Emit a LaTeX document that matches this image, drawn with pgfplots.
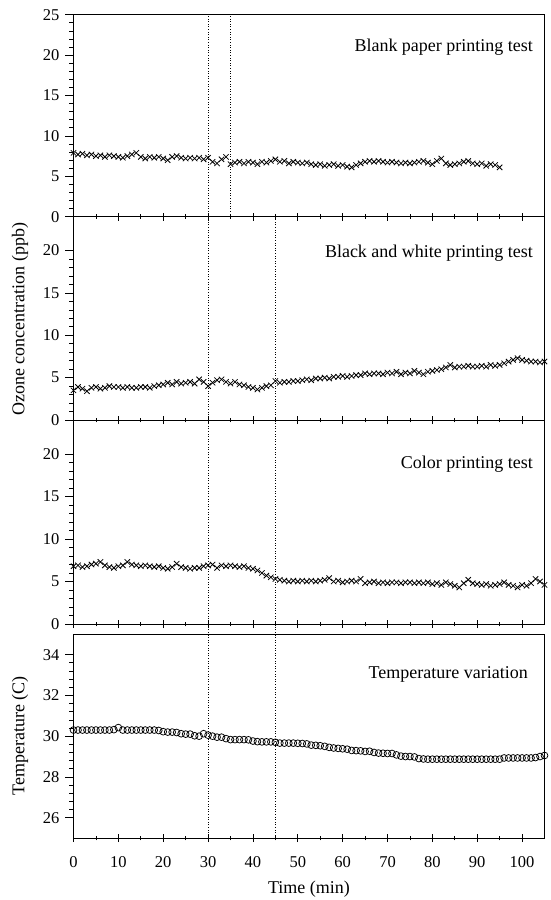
\documentclass[border=0pt]{standalone}
\usepackage{fontspec}
\setmainfont{Liberation Serif}
\usepackage{pgfplots}
\pgfplotsset{compat=1.18}
\pgfplotsset{
 panel/.style={
  scale only axis, width=471pt,
  xmin=0, xmax=105,
  xtick={0,10,...,100}, minor x tick num=1,
  xtick pos=bottom, ytick pos=left,
  xtick align=center, ytick align=outside,
  major tick length=8pt, minor tick length=4.5pt,
  every tick/.style={black, line width=0.7pt},
  axis line style={line width=0.8pt},
  /pgf/number format/assume math mode=true,
  ticklabel style={font=\fontsize{16.5}{18}\selectfont},
  yticklabel style={xshift=-2.5pt},
  xticklabel style={yshift=-11pt},
  xlabel style={yshift=-6pt},
  label style={font=\fontsize{18}{20}\selectfont},
  anchor=south west,
 },
 ozone/.style={panel, ymin=0, ytick={0,5,...,20}, minor y tick num=4, xticklabels={}},
 xmk/.style={only marks, mark=x, mark size=3.8pt, black, mark options={line width=0.8pt}},
}
\tikzset{
 vl/.style={black, dotted, line width=0.6pt},
 lbl/.style={anchor=base east, font=\fontsize{18}{20}\selectfont},
}
\begin{document}
\begin{tikzpicture}
\path[use as bounding box] (0,0) rectangle (550pt,-900pt);
% Panel 1
\begin{axis}[ozone, at={(73.5pt,-216.7pt)}, height=202pt, ymax=25, ytick={0,5,...,25}]
\addplot[xmk] table {
x y
0 7.9
1 7.7
2 7.8
3 7.6
4 7.7
5 7.5
6 7.6
7 7.4
8 7.6
9 7.5
10 7.4
11 7.3
12 7.5
13 7.7
14 7.9
15 7.4
16 7.2
17 7.4
18 7.3
19 7.4
20 7.2
21 7.0
22 7.4
23 7.5
24 7.3
25 7.2
26 7.3
27 7.2
28 7.3
29 7.1
30 7.3
31 6.8
32 6.6
33 7.1
34 7.4
35 6.5
36 6.7
37 6.8
38 6.6
39 6.8
40 6.7
41 6.5
42 6.8
43 6.7
44 6.9
45 7.1
46 6.8
47 6.9
48 6.6
49 6.8
50 6.7
51 6.6
52 6.7
53 6.5
54 6.4
55 6.5
56 6.3
57 6.4
58 6.5
59 6.3
60 6.4
61 6.2
62 6.1
63 6.4
64 6.6
65 6.8
66 6.9
67 6.8
68 6.9
69 6.8
70 6.7
71 6.8
72 6.7
73 6.6
74 6.7
75 6.6
76 6.7
77 6.8
78 6.9
79 6.7
80 6.5
81 6.9
82 7.2
83 6.6
84 6.4
85 6.5
86 6.6
87 6.8
88 6.9
89 6.6
90 6.5
91 6.6
92 6.3
93 6.5
94 6.4
95 6.1
};
\draw[vl] (axis cs:30,0) -- (axis cs:30,25);
\draw[vl] (axis cs:35,0) -- (axis cs:35,25);
\node[lbl] at (axis description cs:0.983,0.817) {Blank paper printing test};
\end{axis}
% Panel 2
\begin{axis}[ozone, at={(73.5pt,-420pt)}, height=203.3pt, ymax=24]
\addplot[xmk] table {
x y
0 3.5
1 3.9
2 3.7
3 3.4
4 3.8
5 3.9
6 3.7
7 3.8
8 4.0
9 3.9
10 3.9
11 3.8
12 3.9
13 3.8
14 3.8
15 3.9
16 3.9
17 3.8
18 4.0
19 4.1
20 4.2
21 4.4
22 4.2
23 4.5
24 4.3
25 4.4
26 4.5
27 4.3
28 4.8
29 4.5
30 4.0
31 4.4
32 4.7
33 4.8
34 4.5
35 4.3
36 4.5
37 4.2
38 4.1
39 3.9
40 3.8
41 3.6
42 3.8
43 4.0
44 4.1
45 4.6
46 4.4
47 4.5
48 4.5
49 4.6
50 4.6
51 4.7
52 4.8
53 4.7
54 4.9
55 4.9
56 5.0
57 4.9
58 5.1
59 5.1
60 5.2
61 5.1
62 5.2
63 5.3
64 5.3
65 5.5
66 5.4
67 5.5
68 5.5
69 5.4
70 5.6
71 5.5
72 5.7
73 5.4
74 5.6
75 5.5
76 5.8
77 5.6
78 5.4
79 5.7
80 5.8
81 5.9
82 6.0
83 6.2
84 6.5
85 6.2
86 6.3
87 6.3
88 6.4
89 6.3
90 6.3
91 6.4
92 6.3
93 6.5
94 6.4
95 6.5
96 6.7
97 6.9
98 7.1
99 7.3
100 7.1
101 7.0
102 6.9
103 6.9
104 6.8
105 6.9
};
\draw[vl] (axis cs:30,0) -- (axis cs:30,24);
\draw[vl] (axis cs:45,0) -- (axis cs:45,24);
\node[lbl] at (axis description cs:0.983,0.798) {Black and white printing test};
\end{axis}
% Panel 3
\begin{axis}[ozone, at={(73.5pt,-624pt)}, height=204pt, ymax=24]
\addplot[xmk] table {
x y
0 6.8
1 6.9
2 6.7
3 6.8
4 7.0
5 7.1
6 7.3
7 6.9
8 6.7
9 6.6
10 6.8
11 6.9
12 7.3
13 7.0
14 6.9
15 6.8
16 6.9
17 6.8
18 6.7
19 6.8
20 6.6
21 6.5
22 6.7
23 7.1
24 6.7
25 6.6
26 6.5
27 6.6
28 6.6
29 6.8
30 6.9
31 7.0
32 6.6
33 6.9
34 6.8
35 6.9
36 6.8
37 6.7
38 6.8
39 6.6
40 6.5
41 6.3
42 6.0
43 5.7
44 5.5
45 5.3
46 5.2
47 5.1
48 5.0
49 5.1
50 5.0
51 5.1
52 5.0
53 5.1
54 5.0
55 5.1
56 5.2
57 5.4
58 5.0
59 5.1
60 4.9
61 5.0
62 5.1
63 5.0
64 5.3
65 4.8
66 4.9
67 5.0
68 4.8
69 4.9
70 4.8
71 4.9
72 4.9
73 4.8
74 4.9
75 4.9
76 4.8
77 4.9
78 4.8
79 4.9
80 4.7
81 4.8
82 4.6
83 4.9
84 4.7
85 4.5
86 4.3
87 4.8
88 5.2
89 4.8
90 4.7
91 4.6
92 4.7
93 4.5
94 4.6
95 4.7
96 4.9
97 4.6
98 4.5
99 4.3
100 4.6
101 4.5
102 4.8
103 5.3
104 5.0
105 4.6
};
\draw[vl] (axis cs:30,0) -- (axis cs:30,24);
\draw[vl] (axis cs:45,0) -- (axis cs:45,24);
\node[lbl] at (axis description cs:0.983,0.76) {Color printing test};
\end{axis}
% Panel 4
\begin{axis}[panel, at={(73.5pt,-838pt)}, height=203.7pt, ymin=25, ymax=35,
  ytick={26,28,...,34}, minor y tick num=4, clip=false,
  xlabel={Time (min)}]
\addplot[only marks, mark=o, mark size=3.4pt, black, mark options={fill=white, line width=0.75pt}] table {
x y
0 30.3
1 30.3
2 30.3
3 30.3
4 30.3
5 30.3
6 30.3
7 30.3
8 30.3
9 30.32
10 30.42
11 30.3
12 30.3
13 30.3
14 30.3
15 30.3
16 30.3
17 30.3
18 30.3
19 30.28
20 30.22
21 30.2
22 30.2
23 30.18
24 30.12
25 30.1
26 30.1
27 30.02
28 30.0
29 30.12
30 30.05
31 30.0
32 29.95
33 29.95
34 29.88
35 29.83
36 29.83
37 29.83
38 29.83
39 29.82
40 29.76
41 29.73
42 29.72
43 29.72
44 29.72
45 29.7
46 29.66
47 29.66
48 29.66
49 29.66
50 29.65
51 29.64
52 29.62
53 29.56
54 29.55
55 29.53
56 29.5
57 29.45
58 29.42
59 29.4
60 29.38
61 29.36
62 29.3
63 29.29
64 29.28
65 29.25
66 29.26
67 29.2
68 29.17
69 29.16
70 29.15
71 29.15
72 29.08
73 29.02
74 29.0
75 29.0
76 28.98
77 28.9
78 28.88
79 28.87
80 28.87
81 28.87
82 28.87
83 28.87
84 28.87
85 28.87
86 28.87
87 28.87
88 28.87
89 28.87
90 28.87
91 28.87
92 28.87
93 28.87
94 28.87
95 28.87
96 28.93
97 28.93
98 28.93
99 28.93
100 28.93
101 28.93
102 28.93
103 28.95
104 29.0
105 29.05
};
\draw[vl] (axis cs:30,25) -- (axis cs:30,35.52);
\draw[vl] (axis cs:45,25) -- (axis cs:45,35.52);
\node[lbl] at (axis description cs:0.972,0.784) {Temperature variation};
\end{axis}
\node[rotate=90, font=\fontsize{18}{20}\selectfont] at (20pt,-319.4pt) {Ozone concentration (ppb)};
\node[rotate=90, font=\fontsize{18}{20}\selectfont] at (20pt,-736pt) {Temperature (C)};
\end{tikzpicture}
\end{document}
